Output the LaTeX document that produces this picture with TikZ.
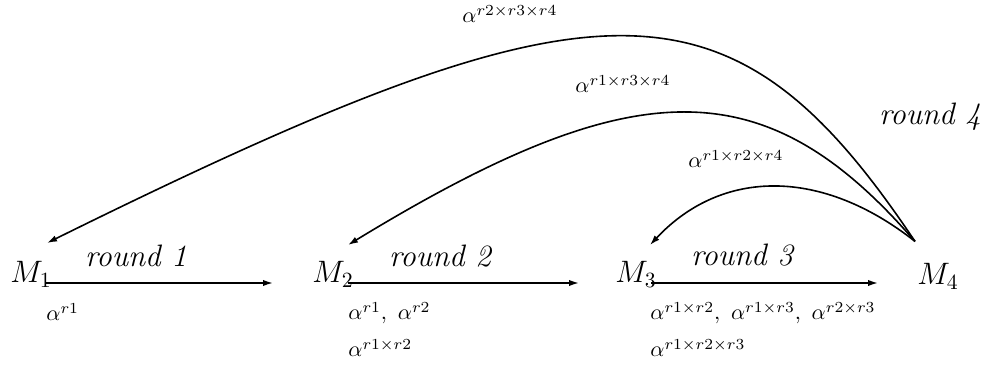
\RequirePackage{fix-cm}
\documentclass[tikz,border=0pt]{standalone}
\usetikzlibrary{arrows.meta}
\begin{document}
\begin{tikzpicture}[x=0.5pt,y=-0.5pt,
  mnode/.style={inner sep=0pt,anchor=base west,font=\fontsize{15.5}{18}\selectfont},
  rnd/.style={inner sep=0pt,anchor=base,font=\fontsize{15.5}{18}\selectfont\itshape},
  lab/.style={inner sep=0pt,anchor=base west,font=\fontsize{11}{13}\selectfont},
  conn/.style={line width=0.8pt,-{Latex[length=5pt,width=3.2pt]}}]
\useasboundingbox (0,0) rectangle (985,367);
\node[mnode] (M1) at (10,283) {$M_1$};
\node[mnode] (M2) at (312,283) {$M_2$};
\node[mnode] (M3) at (615,283) {$M_3$};
\node[mnode] (M4) at (917,285) {$M_4$};
\draw[conn,shorten >=19.5pt] ([xshift=-3pt]M1.base east) -- (M2.base west);
\draw[conn,shorten >=18pt] ([xshift=-3pt]M2.base east) -- (M3.base west);
\draw[conn,shorten >=19.5pt] ([xshift=-3pt]M3.base east) -- ([yshift=1pt]M4.base west);
\node[rnd] (r1) at (136,267) {round 1};
\node[rnd] (r2) at (440,267) {round 2};
\node[rnd] (r3) at (742,266) {round 3};
\node[rnd] (r4) at (930,125) {round 4};
\coordinate (s4) at ([shift={(-2,-22)}]M4.north west);
\coordinate (e1) at (47,243);
\coordinate (e2) at (348,245);
\coordinate (e3) at (650,245);
\draw[conn] (s4) .. controls (730,-35) and (600,-30) .. (e1);
\draw[conn] (s4) .. controls (765,68) and (635,70) .. (e2);
\draw[conn] (s4) .. controls (822,168) and (722,168) .. (e3);
\node[lab] (a1) at (46,321) {$\alpha^{r1}$};
\node[lab] (a2) at (348,320) {$\alpha^{r1},\ \alpha^{r2}$};
\node[lab] (a3) at (348,357) {$\alpha^{r1\times r2}$};
\node[lab] (a4) at (650,320) {$\alpha^{r1\times r2},\ \alpha^{r1\times r3},\ \alpha^{r2\times r3}$};
\node[lab] (a5) at (650,357) {$\alpha^{r1\times r2\times r3}$};
\node[lab] (a6) at (462,23) {$\alpha^{r2\times r3\times r4}$};
\node[lab] (a7) at (575,93) {$\alpha^{r1\times r3\times r4}$};
\node[lab] (a8) at (688,168) {$\alpha^{r1\times r2\times r4}$};
\end{tikzpicture}
\end{document}
